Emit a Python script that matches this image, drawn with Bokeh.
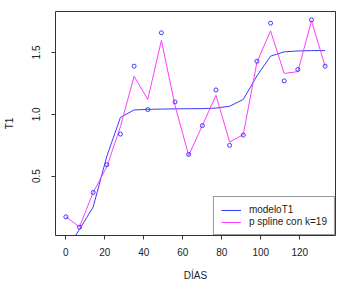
from bokeh.plotting import figure
from bokeh.models import Range1d, Legend, LegendItem, FixedTicker, PrintfTickFormatter
from bokeh.embed import file_html
from bokeh.resources import INLINE

dias = [0, 7, 14, 21, 28, 35, 42, 49, 56, 63, 70, 77, 84, 91, 98, 105, 112, 119, 126, 133]
t1 = [0.171, 0.087, 0.368, 0.592, 0.840, 1.389, 1.038, 1.659, 1.100, 0.675,
      0.908, 1.197, 0.749, 0.832, 1.429, 1.737, 1.270, 1.362, 1.764, 1.389]
modelo_t1 = [-0.10, 0.07, 0.25, 0.66, 0.975, 1.035, 1.040, 1.042, 1.044, 1.045,
             1.046, 1.050, 1.065, 1.12, 1.31, 1.47, 1.505, 1.512, 1.515, 1.515]
pspline = [0.171, 0.09, 0.368, 0.575, 0.90, 1.308, 1.12, 1.597, 1.07, 0.668,
           0.908, 1.154, 0.776, 0.835, 1.42, 1.675, 1.33, 1.345, 1.756, 1.389]
x_ticks = [0, 20, 40, 60, 80, 100, 120]
y_ticks = [0.5, 1.0, 1.5]

BLUE = "#3a3aff"
MAGENTA = "#ff3cff"
FONT = "Liberation Sans"
TXT = "#222222"

xpad = 0.04 * (max(dias) - min(dias))
ypad = 0.04 * (max(t1) - min(t1))

p = figure(width=361, height=293, output_backend="svg", toolbar_location=None,
           x_range=Range1d(min(dias) - xpad, max(dias) + xpad),
           y_range=Range1d(min(t1) - ypad, max(t1) + ypad),
           min_border_left=51, min_border_right=26, min_border_top=11, min_border_bottom=58)
p.background_fill_color = "white"
p.border_fill_color = "white"
p.outline_line_color = "#333333"
p.outline_line_width = 1
p.xgrid.visible = False
p.ygrid.visible = False

for ax in (p.xaxis[0], p.yaxis[0]):
    ax.axis_line_color = None
    ax.major_tick_line_color = "#333333"
    ax.minor_tick_line_color = None
    ax.major_tick_out = 4
    ax.major_tick_in = 0
    ax.major_label_text_font = FONT
    ax.major_label_text_font_size = "10px"
    ax.major_label_text_color = TXT
    ax.axis_label_text_font = FONT
    ax.axis_label_text_font_size = "10px"
    ax.axis_label_text_font_style = "normal"
    ax.axis_label_text_color = TXT

p.xaxis[0].ticker = FixedTicker(ticks=x_ticks)
p.yaxis[0].ticker = FixedTicker(ticks=y_ticks)
p.yaxis[0].formatter = PrintfTickFormatter(format="%.1f")
p.xaxis[0].major_label_standoff = 8
p.xaxis[0].axis_label = "DÍAS"
p.xaxis[0].axis_label_standoff = 11
p.yaxis[0].axis_label = "T1"
p.yaxis[0].major_label_orientation = "vertical"
p.yaxis[0].major_label_standoff = 11
p.yaxis[0].axis_label_standoff = 15

r_m = p.line(dias, modelo_t1, line_color=BLUE, line_width=1)
r_s = p.line(dias, pspline, line_color=MAGENTA, line_width=1)
p.scatter(dias, t1, marker="circle", size=4, fill_color=None, line_color=BLUE, line_width=1)

legend = Legend(items=[LegendItem(label="modeloT1", renderers=[r_m]),
                       LegendItem(label="p spline con k=19", renderers=[r_s])],
                location="bottom_right", margin=0, padding=7, spacing=1,
                glyph_width=20, glyph_height=10, label_height=10, label_standoff=8,
                label_text_font=FONT, label_text_font_size="10px", label_text_color=TXT,
                border_line_color="#333333", border_line_width=1,
                background_fill_color="white", background_fill_alpha=1)
p.add_layout(legend)

open("out.html", "w").write(file_html(p, INLINE))
